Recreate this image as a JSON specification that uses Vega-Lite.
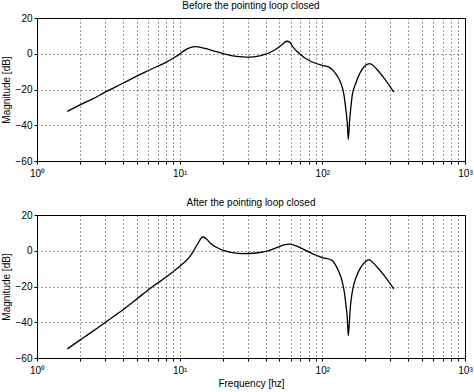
{
  "$schema": "https://vega.github.io/schema/vega-lite/v6.json",
  "padding": {"left": 0, "top": 0, "right": 8, "bottom": 2},
  "spacing": 18,
  "config": {
    "font": "Liberation Sans",
    "view": {"stroke": "black", "strokeWidth": 1},
    "axis": {
      "labelFont": "Liberation Sans", "labelFontSize": 10, "labelColor": "black",
      "titleFont": "Liberation Sans", "titleFontSize": 10, "titleFontWeight": "normal", "titleColor": "black",
      "domain": false, "tickColor": "black", "tickSize": 3,
      "gridColor": "black", "gridDash": [1, 3], "gridOpacity": 0.8, "gridWidth": 1
    },
    "title": {"font": "Liberation Sans", "fontSize": 10, "fontWeight": "normal", "color": "black", "offset": 2}
  },
  "datasets": {
    "mag": [
      {"panel": "b", "f": 1.63, "db": -32.3}, {"panel": "b", "f": 2, "db": -28.6}, {"panel": "b", "f": 2.5, "db": -25},
      {"panel": "b", "f": 3, "db": -21.5}, {"panel": "b", "f": 4, "db": -16.5}, {"panel": "b", "f": 5, "db": -12.5},
      {"panel": "b", "f": 6, "db": -9.5}, {"panel": "b", "f": 7, "db": -7},
      {"panel": "b", "f": 8, "db": -4.8}, {"panel": "b", "f": 9, "db": -2.5}, {"panel": "b", "f": 10, "db": -0.2},
      {"panel": "b", "f": 10.5, "db": 1.1}, {"panel": "b", "f": 11.2, "db": 2.6}, {"panel": "b", "f": 12, "db": 3.6},
      {"panel": "b", "f": 12.7, "db": 4}, {"panel": "b", "f": 13.5, "db": 3.8}, {"panel": "b", "f": 15, "db": 3},
      {"panel": "b", "f": 17, "db": 1.8}, {"panel": "b", "f": 20, "db": 0.2}, {"panel": "b", "f": 23, "db": -1},
      {"panel": "b", "f": 26, "db": -1.6}, {"panel": "b", "f": 29, "db": -1.9}, {"panel": "b", "f": 33, "db": -1.7},
      {"panel": "b", "f": 37, "db": -1}, {"panel": "b", "f": 42, "db": 0.4}, {"panel": "b", "f": 47, "db": 2.4},
      {"panel": "b", "f": 52, "db": 5}, {"panel": "b", "f": 56.3, "db": 7}, {"panel": "b", "f": 59, "db": 6.5},
      {"panel": "b", "f": 61.7, "db": 4.3}, {"panel": "b", "f": 66, "db": 1.5}, {"panel": "b", "f": 70.5, "db": -0.5},
      {"panel": "b", "f": 77, "db": -2.8}, {"panel": "b", "f": 85, "db": -4.6}, {"panel": "b", "f": 99.5, "db": -6.5},
      {"panel": "b", "f": 111, "db": -7.5}, {"panel": "b", "f": 118, "db": -9}, {"panel": "b", "f": 124, "db": -11.1},
      {"panel": "b", "f": 134, "db": -15.9}, {"panel": "b", "f": 142, "db": -23.3}, {"panel": "b", "f": 146, "db": -30.8},
      {"panel": "b", "f": 150, "db": -40}, {"panel": "b", "f": 152, "db": -48}, {"panel": "b", "f": 155, "db": -38.3},
      {"panel": "b", "f": 159, "db": -28.9}, {"panel": "b", "f": 162, "db": -23.3}, {"panel": "b", "f": 171, "db": -16.8},
      {"panel": "b", "f": 185, "db": -10.3}, {"panel": "b", "f": 201, "db": -6.5}, {"panel": "b", "f": 214, "db": -5.5},
      {"panel": "b", "f": 222, "db": -6}, {"panel": "b", "f": 240, "db": -8.5}, {"panel": "b", "f": 270, "db": -13.5},
      {"panel": "b", "f": 317, "db": -21.5},
      {"panel": "a", "f": 1.63, "db": -54.9}, {"panel": "a", "f": 2, "db": -50}, {"panel": "a", "f": 2.5, "db": -44.7},
      {"panel": "a", "f": 3.02, "db": -40}, {"panel": "a", "f": 4, "db": -33}, {"panel": "a", "f": 5, "db": -27},
      {"panel": "a", "f": 6.48, "db": -20}, {"panel": "a", "f": 8, "db": -14.8}, {"panel": "a", "f": 8.9, "db": -12},
      {"panel": "a", "f": 10.5, "db": -7.3}, {"panel": "a", "f": 11.5, "db": -4.3}, {"panel": "a", "f": 12.3, "db": -1},
      {"panel": "a", "f": 13.3, "db": 3.5}, {"panel": "a", "f": 14.5, "db": 7.7}, {"panel": "a", "f": 15.5, "db": 6.4},
      {"panel": "a", "f": 16.5, "db": 4}, {"panel": "a", "f": 17.9, "db": 2.1}, {"panel": "a", "f": 21.1, "db": -0.2},
      {"panel": "a", "f": 24, "db": -1.2}, {"panel": "a", "f": 27.6, "db": -1.6}, {"panel": "a", "f": 33, "db": -1.4},
      {"panel": "a", "f": 40.1, "db": -0.4}, {"panel": "a", "f": 48, "db": 1.8}, {"panel": "a", "f": 54, "db": 3.3},
      {"panel": "a", "f": 58.5, "db": 3.7}, {"panel": "a", "f": 64, "db": 3}, {"panel": "a", "f": 70, "db": 1.7},
      {"panel": "a", "f": 76.4, "db": 0.2}, {"panel": "a", "f": 85, "db": -1.6}, {"panel": "a", "f": 100, "db": -3.8},
      {"panel": "a", "f": 117, "db": -5.4}, {"panel": "a", "f": 124, "db": -8}, {"panel": "a", "f": 131, "db": -12},
      {"panel": "a", "f": 137, "db": -16.5}, {"panel": "a", "f": 142, "db": -22.2}, {"panel": "a", "f": 146, "db": -29.7},
      {"panel": "a", "f": 150, "db": -39}, {"panel": "a", "f": 152, "db": -47.5}, {"panel": "a", "f": 155, "db": -39},
      {"panel": "a", "f": 157, "db": -32}, {"panel": "a", "f": 160, "db": -26}, {"panel": "a", "f": 165, "db": -20},
      {"panel": "a", "f": 171, "db": -15.7}, {"panel": "a", "f": 180, "db": -11.4}, {"panel": "a", "f": 190, "db": -8.2},
      {"panel": "a", "f": 200, "db": -6.2}, {"panel": "a", "f": 212, "db": -5}, {"panel": "a", "f": 222, "db": -6},
      {"panel": "a", "f": 240, "db": -8.8}, {"panel": "a", "f": 270, "db": -13.6}, {"panel": "a", "f": 317, "db": -21.3}
    ]
  },
  "vconcat": [
    {
      "width": 428, "height": 143,
      "title": "Before the pointing loop closed",
      "data": {"name": "mag"},
      "transform": [{"filter": "datum.panel == 'b'"}],
      "mark": {"type": "line", "color": "black", "strokeWidth": 1.3, "interpolate": "monotone"},
      "encoding": {
        "x": {"field": "f", "type": "quantitative",
          "scale": {"type": "log", "domain": [1, 1000], "nice": false},
          "axis": {"title": null, "labelFlush": false, "labelOverlap": false, "labelPadding": 4,
            "values": [1,2,3,4,5,6,7,8,9,10,20,30,40,50,60,70,80,90,100,200,300,400,500,600,700,800,900,1000],
            "labelExpr": "datum.value == 1 ? '10⁰' : datum.value == 10 ? '10¹' : datum.value == 100 ? '10²' : datum.value == 1000 ? '10³' : ''"}},
        "y": {"field": "db", "type": "quantitative",
          "scale": {"domain": [-60, 20], "nice": false},
          "axis": {"title": "Magnitude [dB]", "values": [-60, -40, -20, 0, 20], "titlePadding": 4, "labelPadding": 2}}
      }
    },
    {
      "width": 428, "height": 143,
      "title": "After the pointing loop closed",
      "data": {"name": "mag"},
      "transform": [{"filter": "datum.panel == 'a'"}],
      "mark": {"type": "line", "color": "black", "strokeWidth": 1.3, "interpolate": "monotone"},
      "encoding": {
        "x": {"field": "f", "type": "quantitative",
          "scale": {"type": "log", "domain": [1, 1000], "nice": false},
          "axis": {"title": "Frequency [hz]", "labelFlush": false, "labelOverlap": false, "labelPadding": 4, "titlePadding": 3,
            "values": [1,2,3,4,5,6,7,8,9,10,20,30,40,50,60,70,80,90,100,200,300,400,500,600,700,800,900,1000],
            "labelExpr": "datum.value == 1 ? '10⁰' : datum.value == 10 ? '10¹' : datum.value == 100 ? '10²' : datum.value == 1000 ? '10³' : ''"}},
        "y": {"field": "db", "type": "quantitative",
          "scale": {"domain": [-60, 20], "nice": false},
          "axis": {"title": "Magnitude [dB]", "values": [-60, -40, -20, 0, 20], "titlePadding": 4, "labelPadding": 2}}
      }
    }
  ]
}
